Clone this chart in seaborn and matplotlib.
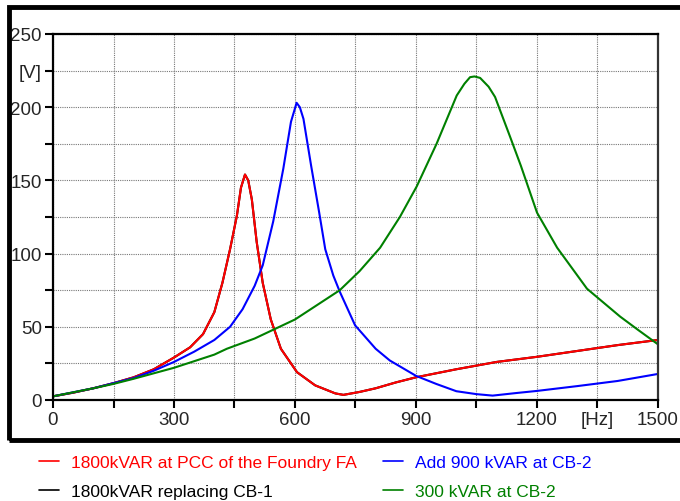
import matplotlib
matplotlib.use("Agg")
import matplotlib.pyplot as plt
import seaborn as sns
import pandas as pd
from matplotlib.patches import Rectangle
from matplotlib.lines import Line2D

# ---- data ----
red_f = [0, 50, 100, 150, 200, 250, 300, 340, 372, 400, 420, 439, 456, 466, 476, 484, 493, 505, 520, 540, 565, 605, 650, 700, 720, 760, 800, 850, 900, 1000, 1100, 1200, 1300, 1400, 1500]
red_v = [2.5, 5, 8, 11.5, 15.5, 21, 29, 36, 45, 60, 80, 103, 126, 145, 154, 150, 137, 108, 80, 55, 35, 19, 10, 4.5, 3.5, 5.5, 8, 12, 15.5, 21, 26, 29.5, 33.5, 37.5, 41]

blue_f = [0, 100, 150, 200, 250, 300, 350, 400, 439, 470, 500, 520, 546, 571, 590, 604, 612, 621, 640, 660, 675, 695, 711, 749, 800, 835, 900, 950, 1000, 1050, 1090, 1150, 1200, 1300, 1400, 1500]
blue_v = [2.5, 8, 11.5, 15, 20, 26, 33, 41, 50, 62, 78, 92, 122, 158, 190, 203, 200, 192, 160, 128, 103, 85, 74, 51, 35, 27, 16.5, 11, 6, 4, 3, 4.8, 6.2, 9.5, 13, 17.8]

green_f = [0, 100, 150, 200, 300, 400, 431, 500, 600, 650, 711, 760, 811, 860, 902, 951, 1001, 1020, 1034, 1045, 1059, 1080, 1096, 1133, 1160, 1200, 1250, 1324, 1406, 1450, 1500]
green_v = [2.5, 8, 11, 14.5, 22, 31, 35, 42, 55, 64, 75, 88, 104, 125, 146, 175, 208, 216, 220.5, 221, 220, 214, 207, 180, 160, 128, 104, 76, 57, 48, 38]

# black series is hidden beneath the red one in the reference
black_f = red_f
black_v = red_v

labels = ["1800kVAR at PCC of the Foundry FA", "1800kVAR replacing CB-1",
          "Add 900 kVAR at CB-2", "300 kVAR at CB-2"]
colors = ["#ff0000", "#000000", "#0000ff", "#008000"]

x_ticks = [0, 150, 300, 450, 600, 750, 900, 1050, 1200, 1350, 1500]
x_labels = ["0", "", "300", "", "600", "", "900", "", "1200", "[Hz]", "1500"]
y_ticks = [0, 25, 50, 75, 100, 125, 150, 175, 200, 225, 250]
y_labels = ["0", "", "50", "", "100", "", "150", "", "200", "[V]", "250"]

frames = []
for lab, f, v in zip(labels, [red_f, black_f, blue_f, green_f], [red_v, black_v, blue_v, green_v]):
    frames.append(pd.DataFrame({"f": f, "v": v, "series": lab}))
df = pd.concat(frames, ignore_index=True)

sns.set_style("white")
plt.rcParams["font.family"] = ["Liberation Sans", "DejaVu Sans"]

fig = plt.figure(figsize=(6.8, 5.02), dpi=100)
ax = fig.add_axes([53 / 680, 1 - 401 / 502, 605 / 680, 366 / 502])

draw_order = [labels[1], labels[0], labels[2], labels[3]]
pal = dict(zip(labels, colors))
for lab in draw_order:
    sub = df[df["series"] == lab]
    sns.lineplot(data=sub, x="f", y="v", color=pal[lab], lw=1.5, ax=ax,
                 legend=False, sort=False, estimator=None)

ax.set_xlim(0, 1500)
ax.set_ylim(0, 250)
ax.set_xticks(x_ticks)
ax.set_xticklabels(x_labels)
ax.set_yticks(y_ticks)
ax.set_yticklabels(y_labels)
for t in ax.get_xticklabels() + ax.get_yticklabels():
    t.set_fontsize(13.5)
ax.set_xlabel("")
ax.set_ylabel("")
ax.grid(True, color="#777777", linestyle=(0, (1, 1)), linewidth=0.8)
ax.tick_params(axis="both", direction="out", length=6, width=1.5, color="black",
               pad=2, left=True, bottom=True)
for side, sp in ax.spines.items():
    sp.set_visible(True)
    sp.set_color("black")
    sp.set_linewidth(1.6)
ax.spines["right"].set_color("#333333")

# outer thick frame
fig.patches.append(Rectangle((9 / 680, 1 - 441 / 502), 700 / 680, 433 / 502,
                             transform=fig.transFigure, fill=False,
                             edgecolor="black", linewidth=3.5))

handles = [Line2D([], [], color=c, lw=1.2) for c in colors]
leg = fig.legend(handles, labels, ncol=2, loc="upper left",
                 bbox_to_anchor=(23 / 680, 1 - 440 / 502), frameon=False,
                 fontsize=12.5, handlelength=1.2, handletextpad=0.65,
                 columnspacing=1.5, labelspacing=0.8)
for t, c in zip(leg.get_texts(), colors):
    t.set_color(c)

fig.savefig("out.png", dpi=100)
